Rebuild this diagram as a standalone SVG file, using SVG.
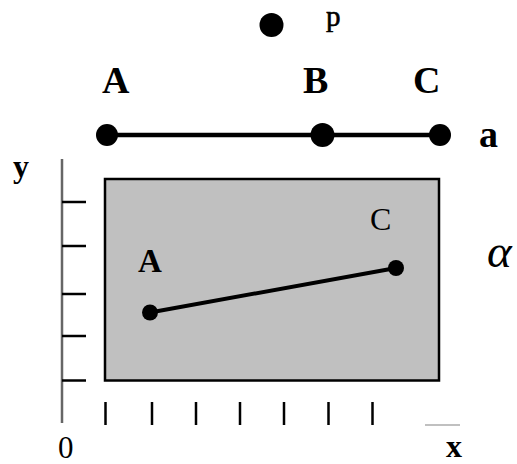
<svg xmlns="http://www.w3.org/2000/svg" width="517" height="464" viewBox="0 0 517 464">
<style>
.t{font-family:"Liberation Serif","Times New Roman",serif;fill:#000}
.b{font-weight:bold}
.tick{stroke:#000;stroke-width:2.5}
.dot{fill:#000}
</style>
<rect width="517" height="464" fill="#fff"/>
<g id="axes">
  <line x1="62" y1="159" x2="62" y2="423" stroke="#666" stroke-width="2.5"/>
  <line x1="425" y1="425" x2="460" y2="425" stroke="#c0c0c0" stroke-width="2"/>
  <g class="tick">
    <line x1="62" y1="202" x2="86" y2="202"/>
    <line x1="62" y1="246" x2="86" y2="246"/>
    <line x1="62" y1="294" x2="86" y2="294"/>
    <line x1="62" y1="336" x2="86" y2="336"/>
    <line x1="62" y1="380.5" x2="86" y2="380.5"/>
    <line x1="105.5" y1="402" x2="105.5" y2="425"/>
    <line x1="152" y1="402" x2="152" y2="425"/>
    <line x1="196" y1="402" x2="196" y2="425"/>
    <line x1="240" y1="402" x2="240" y2="425"/>
    <line x1="284" y1="402" x2="284" y2="425"/>
    <line x1="328.5" y1="402" x2="328.5" y2="425"/>
    <line x1="372.5" y1="402" x2="372.5" y2="425"/>
  </g>
  <text class="t b" x="13" y="177" font-size="32">y</text>
  <text class="t" x="58" y="458" font-size="31">0</text>
  <text class="t b" x="446" y="457" font-size="32">x</text>
</g>
<g id="plane">
  <rect x="105" y="179" width="334" height="201.5" fill="#c0c0c0" stroke="#000" stroke-width="2.5"/>
  <text class="t" x="487" y="267" font-size="47" font-style="italic">α</text>
</g>
<g id="connectors">
  <line x1="107" y1="135" x2="440" y2="135" stroke="#000" stroke-width="4.5"/>
  <line x1="150" y1="312.5" x2="396" y2="268" stroke="#000" stroke-width="4"/>
</g>
<g id="node-p">
  <circle class="dot" cx="271.5" cy="25" r="12"/>
  <text class="t" x="326" y="25.5" font-size="29" stroke="#000" stroke-width="0.6">p</text>
</g>
<g id="node-A-top">
  <circle class="dot" cx="107" cy="135" r="11"/>
  <text class="t b" x="102" y="92.5" font-size="38">A</text>
</g>
<g id="node-B-top">
  <circle class="dot" cx="322.5" cy="135" r="12"/>
  <text class="t b" x="303" y="92.5" font-size="38">B</text>
</g>
<g id="node-C-top">
  <circle class="dot" cx="440" cy="135" r="11"/>
  <text class="t b" x="413" y="92.5" font-size="38">C</text>
</g>
<g id="node-a">
  <text class="t b" x="479" y="146.5" font-size="38">a</text>
</g>
<g id="node-A-plane">
  <circle class="dot" cx="150" cy="312.5" r="8"/>
  <text class="t b" x="138" y="271.5" font-size="33">A</text>
</g>
<g id="node-C-plane">
  <circle class="dot" cx="396" cy="268" r="8"/>
  <text class="t" x="370" y="230" font-size="32">C</text>
</g>
</svg>
